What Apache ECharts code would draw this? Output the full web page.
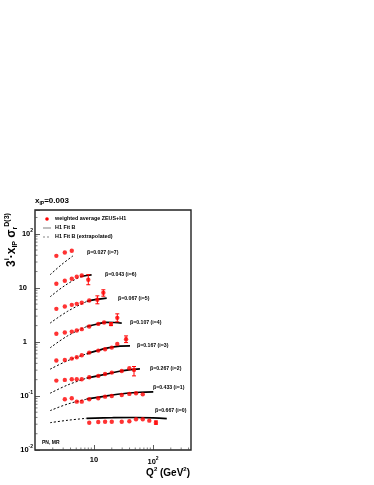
<!DOCTYPE html>
<html><head><meta charset="utf-8">
<script src="https://cdn.jsdelivr.net/npm/echarts@6/dist/echarts.min.js"></script>
<style>html,body{margin:0;padding:0;background:#fff}#c{width:374px;height:485px}</style>
</head><body><div id="c"></div>
<script>
// ---------- data ----------
const betaLabels = ['β=0.667 (i=0)','β=0.433 (i=1)','β=0.267 (i=2)','β=0.167 (i=3)','β=0.107 (i=4)','β=0.067 (i=5)','β=0.043 (i=6)','β=0.027 (i=7)'];
const xTickValues = [10, 100];
const yTickValues = [0.01, 0.1, 1, 10, 100];

// measured points (Q2, 3^i x_IP sigma_r)
const q2_i0 = [8.3, 11.8, 15.4, 20, 29.5, 39.7, 51.5, 67, 86.5];
const v_i0  = [0.032, 0.033, 0.0334, 0.0334, 0.0334, 0.034, 0.037, 0.037, 0.0349];
const q2_i1 = [3.2, 4.2, 5.1, 6.2, 8.3, 11.8, 15.4, 20, 29.5, 39.7, 51.5, 67];
const v_i1  = [0.0869, 0.0906, 0.0784, 0.0784, 0.0869, 0.0906, 0.0971, 0.1, 0.104, 0.109, 0.112, 0.107];
const q2_i2 = [2.3, 3.2, 4.2, 5.1, 6.2, 8.3, 11.8, 15.4, 20, 29.5, 39.7];
const v_i2  = [0.192, 0.198, 0.204, 0.204, 0.204, 0.222, 0.235, 0.255, 0.27, 0.29, 0.326];
const q2_i3 = [2.3, 3.2, 4.2, 5.1, 6.2, 8.3, 11.8, 15.4, 20, 24.8];
const v_i3  = [0.451, 0.464, 0.491, 0.521, 0.567, 0.634, 0.69, 0.732, 0.784, 0.918];
const q2_i4 = [2.3, 3.2, 4.2, 5.1, 6.2, 8.3, 11.8, 14.8];
const v_i4  = [1.41, 1.49, 1.55, 1.62, 1.72, 1.92, 2.15, 2.28];
const q2_i5 = [2.3, 3.2, 4.2, 5.1, 6.2, 8.3];
const v_i5  = [4.08, 4.51, 4.84, 5.05, 5.28, 5.82];
const q2_i6 = [2.3, 3.2, 4.2, 5.1, 6.2];
const v_i6  = [11.9, 13.5, 14.7, 16.0, 16.9];
const q2_i7 = [2.3, 3.2, 4.2];
const v_i7  = [39, 45, 48.5];

// points drawn with error bars: Q2, value, low, high
const eq_i0 = [112];   const ev_i0 = [0.032]; const elo_i0 = [0.030]; const ehi_i0 = [0.0345];
const eq_i1 = [];      const ev_i1 = [];      const elo_i1 = [];      const ehi_i1 = [];
const eq_i2 = [47.6];  const ev_i2 = [0.303]; const elo_i2 = [0.235]; const ehi_i2 = [0.35];
const eq_i3 = [34.9];  const ev_i3 = [1.12];  const elo_i3 = [0.97];  const ehi_i3 = [1.29];
const eq_i4 = [19.4, 24.8]; const ev_i4 = [2.13, 2.78]; const elo_i4 = [2.0, 2.35]; const ehi_i4 = [2.28, 3.3];
const eq_i5 = [11.4, 14.4]; const ev_i5 = [6.0, 8.08];  const elo_i5 = [5.06, 7.0]; const ehi_i5 = [7.1, 9.2];
const eq_i6 = [8.0];   const ev_i6 = [14.1];  const elo_i6 = [11.4];  const ehi_i6 = [17.5];
const eq_i7 = [];      const ev_i7 = [];      const elo_i7 = [];      const ehi_i7 = [];

// H1 Fit B (solid) and extrapolation (dashed)
const fq_i0 = [7.5, 20, 50, 100, 171];       const fv_i0 = [0.0386, 0.0395, 0.0399, 0.0394, 0.038];
const fq_i1 = [7.5, 16.4, 35.8, 60, 101];    const fv_i1 = [0.087, 0.1, 0.112, 0.117, 0.119];
const fq_i2 = [7.5, 16.4, 31.4, 60];         const fv_i2 = [0.213, 0.255, 0.294, 0.316];
const fq_i3 = [7.5, 11, 16.4, 27.5, 40.7];   const fv_i3 = [0.6, 0.68, 0.764, 0.832, 0.845];
const fq_i4 = [7.5, 11, 16.4, 22, 29.5];     const fv_i4 = [1.92, 2.12, 2.3, 2.28, 2.22];
const fq_i5 = [7.5, 11, 16.4];               const fv_i5 = [5.58, 6.1, 6.45];
const fq_i6 = [5.8, 7.5, 9.1];               const fv_i6 = [16.0, 16.9, 17.4];
const fq_i7 = [];                            const fv_i7 = [];

const xq_i0 = [1.8, 3.6, 7.5]; const xv_i0 = [0.032, 0.0355, 0.0386];
const xq_i1 = [1.8, 3.6, 7.5]; const xv_i1 = [0.0534, 0.071, 0.087];
const xq_i2 = [1.8, 3.6, 7.5]; const xv_i2 = [0.112, 0.16, 0.213];
const xq_i3 = [1.8, 3.6, 7.5]; const xv_i3 = [0.312, 0.45, 0.6];
const xq_i4 = [1.8, 3.6, 7.5]; const xv_i4 = [0.774, 1.3, 1.92];
const xq_i5 = [1.8, 3.6, 7.5]; const xv_i5 = [2.22, 3.7, 5.58];
const xq_i6 = [1.8, 3.2, 5.8]; const xv_i6 = [6.8, 11.0, 16.0];
const xq_i7 = [1.8, 2.8, 4.4]; const xv_i7 = [17.4, 26.7, 39];

// ---------- build ----------
const zip = (a, b) => a.map((x, k) => [x, b[k]]);
const groups = [
  [q2_i0, v_i0, eq_i0, ev_i0, elo_i0, ehi_i0, fq_i0, fv_i0, xq_i0, xv_i0],
  [q2_i1, v_i1, eq_i1, ev_i1, elo_i1, ehi_i1, fq_i1, fv_i1, xq_i1, xv_i1],
  [q2_i2, v_i2, eq_i2, ev_i2, elo_i2, ehi_i2, fq_i2, fv_i2, xq_i2, xv_i2],
  [q2_i3, v_i3, eq_i3, ev_i3, elo_i3, ehi_i3, fq_i3, fv_i3, xq_i3, xv_i3],
  [q2_i4, v_i4, eq_i4, ev_i4, elo_i4, ehi_i4, fq_i4, fv_i4, xq_i4, xv_i4],
  [q2_i5, v_i5, eq_i5, ev_i5, elo_i5, ehi_i5, fq_i5, fv_i5, xq_i5, xv_i5],
  [q2_i6, v_i6, eq_i6, ev_i6, elo_i6, ehi_i6, fq_i6, fv_i6, xq_i6, xv_i6],
  [q2_i7, v_i7, eq_i7, ev_i7, elo_i7, ehi_i7, fq_i7, fv_i7, xq_i7, xv_i7]
];

const FONT = '"Liberation Sans", Arial, sans-serif';
const RED = '#ff0000';
const series = [];

groups.forEach(g => {
  const [q, v, eq, ev, elo, ehi, fq, fv, xq, xv] = g;
  series.push({ type: 'line', data: zip(xq, xv), smooth: 0.4, showSymbol: false, silent: true,
    lineStyle: { color: '#000', width: 1, type: [2, 2] }, z: 2 });
  if (fq.length) series.push({ type: 'line', data: zip(fq, fv), smooth: 0.4, showSymbol: false, silent: true,
    lineStyle: { color: '#000', width: 1.7 }, z: 3 });
  if (eq.length) series.push({
    type: 'custom', silent: true, z: 4,
    data: eq.map((x, k) => [x, elo[k], ehi[k]]),
    renderItem: (params, api) => {
      const p1 = api.coord([api.value(0), api.value(1)]);
      const p2 = api.coord([api.value(0), api.value(2)]);
      const st = { stroke: RED, lineWidth: 1 };
      return { type: 'group', children: [
        { type: 'line', shape: { x1: p1[0], y1: p1[1], x2: p2[0], y2: p2[1] }, style: st },
        { type: 'line', shape: { x1: p1[0] - 2, y1: p1[1], x2: p1[0] + 2, y2: p1[1] }, style: st },
        { type: 'line', shape: { x1: p2[0] - 2, y1: p2[1], x2: p2[0] + 2, y2: p2[1] }, style: st }
      ]};
    }
  });
  series.push({ type: 'scatter', data: zip(q, v).concat(zip(eq, ev)), symbol: 'circle', symbolSize: 4.4,
    itemStyle: { color: RED }, silent: true, z: 5 });
});

// minor log ticks (through the axes' own scales)
const xMinor = [], yMinor = [];
[1, 10, 100].forEach(d => { for (let m = 2; m <= 9; m++) if (m * d < 440) xMinor.push(m * d); });
[0.01, 0.1, 1, 10, 100].forEach(d => { for (let m = 2; m <= 9; m++) if (m * d < 275) yMinor.push(m * d); });
series.push({ type: 'custom', silent: true, z: 1, data: xMinor.map(x => [x, 0.01]),
  renderItem: (p, api) => { const c = api.coord([api.value(0), api.value(1)]);
    return { type: 'line', shape: { x1: c[0], y1: c[1], x2: c[0], y2: c[1] - 2.5 }, style: { stroke: '#444', lineWidth: 0.7 } }; } });
series.push({ type: 'custom', silent: true, z: 1, data: yMinor.map(y => [1, y]),
  renderItem: (p, api) => { const c = api.coord([api.value(0), api.value(1)]);
    return { type: 'line', shape: { x1: c[0], y1: c[1], x2: c[0] + 2.5, y2: c[1] }, style: { stroke: '#444', lineWidth: 0.7 } }; } });

const supRich = {
  b: { fontFamily: FONT, fontSize: 7.5, fontWeight: 'bold', color: '#000' },
  s: { fontFamily: FONT, fontSize: 5, fontWeight: 'bold', color: '#000', padding: [0, 0, 7, 0] },
  p: { width: 6 }
};
function yFmt(val) {
  const e = Math.round(Math.log10(val));
  if (Math.abs(Math.log10(val) - e) > 1e-6) return '';
  if (e === 0) return '{b|1}{p|}';
  if (e === 1) return '{b|10}{p|}';
  return '{b|10}{s|' + e + '}';
}
function xFmt(val) {
  const e = Math.round(Math.log10(val));
  if (Math.abs(Math.log10(val) - e) > 1e-6 || e < 1) return '';
  if (e === 1) return '{b|10}';
  return '{b|10}{s|' + e + '}';
}

// beta labels: pixel anchor of each label (layout only)
const betaPos = [[155, 411], [153, 388], [150, 369], [137, 346], [130, 323], [118, 299], [105, 275], [87, 253]];
const lab = (txt, x, y, size, extra) => Object.assign({ type: 'text', x, y,
  style: { text: txt, fontFamily: FONT, fontSize: size, fontWeight: 'bold', fill: '#000', verticalAlign: 'middle' } }, extra || {});

const graphic = [];
betaLabels.forEach((t, k) => graphic.push(lab(t, betaPos[k][0], betaPos[k][1], 5.2)));
// legend
graphic.push({ type: 'circle', shape: { cx: 47, cy: 219, r: 1.8 }, style: { fill: RED } });
graphic.push(lab('weighted average ZEUS+H1', 55, 219, 5.4));
graphic.push({ type: 'line', shape: { x1: 43, y1: 228, x2: 51, y2: 228 }, style: { stroke: '#aaa', lineWidth: 1.5 } });
graphic.push(lab('H1 Fit B', 55, 228, 5.4));
graphic.push({ type: 'line', shape: { x1: 43, y1: 237, x2: 51, y2: 237 }, style: { stroke: '#666', lineWidth: 0.8, lineDash: [2, 2] } });
graphic.push(lab('H1 Fit B (extrapolated)', 55, 237, 5.4));
graphic.push(lab('PN, MR', 42, 443, 5));
// title x_IP = 0.003
graphic.push({ type: 'text', x: 35, y: 201, style: {
  text: '{b|x}{sub|IP}{b|=0.003}', verticalAlign: 'middle',
  rich: { b: { fontFamily: FONT, fontSize: 8, fontWeight: 'bold', fill: '#000' },
          sub: { fontFamily: FONT, fontSize: 5, fontWeight: 'bold', fill: '#000', padding: [5, 0, 0, 0] } } } });
// x axis title
graphic.push({ type: 'text', x: 190, y: 473, style: {
  text: '{b|Q}{s|2}{b| (GeV}{s|2}{b|)}', align: 'right', verticalAlign: 'middle',
  rich: { b: { fontFamily: FONT, fontSize: 10, fontWeight: 'bold', fill: '#000' },
          s: { fontFamily: FONT, fontSize: 6, fontWeight: 'bold', fill: '#000', padding: [0, 0, 7, 0] } } } });
// y axis title
graphic.push({ type: 'text', x: 12, y: 240, rotation: Math.PI / 2, style: {
  text: '{b|3}{s|i}{b|·x}{d|IP}{b| σ}{d|r}{s|D(3)}', align: 'center', verticalAlign: 'middle',
  rich: { b: { fontFamily: FONT, fontSize: 12, fontWeight: 'bold', fill: '#000' },
          s: { fontFamily: FONT, fontSize: 7, fontWeight: 'bold', fill: '#000', padding: [0, 0, 9, 0] },
          d: { fontFamily: FONT, fontSize: 7, fontWeight: 'bold', fill: '#000', padding: [7, 0, 0, 0] } } } });

const chart = echarts.init(document.getElementById('c'), null, { renderer: 'canvas' });
chart.setOption({
  animation: false,
  backgroundColor: '#fff',
  grid: { left: 35, top: 210, width: 156, height: 240, containLabel: false, outerBoundsMode: 'none',
    show: true, borderColor: '#222', borderWidth: 1.4, backgroundColor: 'transparent' },
  xAxis: { type: 'log', logBase: 10, min: 1, max: 440,
    axisLine: { show: false }, splitLine: { show: false },
    axisTick: { show: true, inside: true, length: 5, lineStyle: { color: '#333', width: 0.8 } },
    axisLabel: { formatter: xFmt, rich: supRich, margin: 6, showMinLabel: false, showMaxLabel: false } },
  yAxis: { type: 'log', logBase: 10, min: 0.01, max: 275,
    axisLine: { show: false }, splitLine: { show: false },
    axisTick: { show: true, inside: true, length: 5, lineStyle: { color: '#333', width: 0.8 } },
    axisLabel: { formatter: yFmt, rich: supRich, margin: 2 } },
  series,
  graphic
});
</script></body></html>
